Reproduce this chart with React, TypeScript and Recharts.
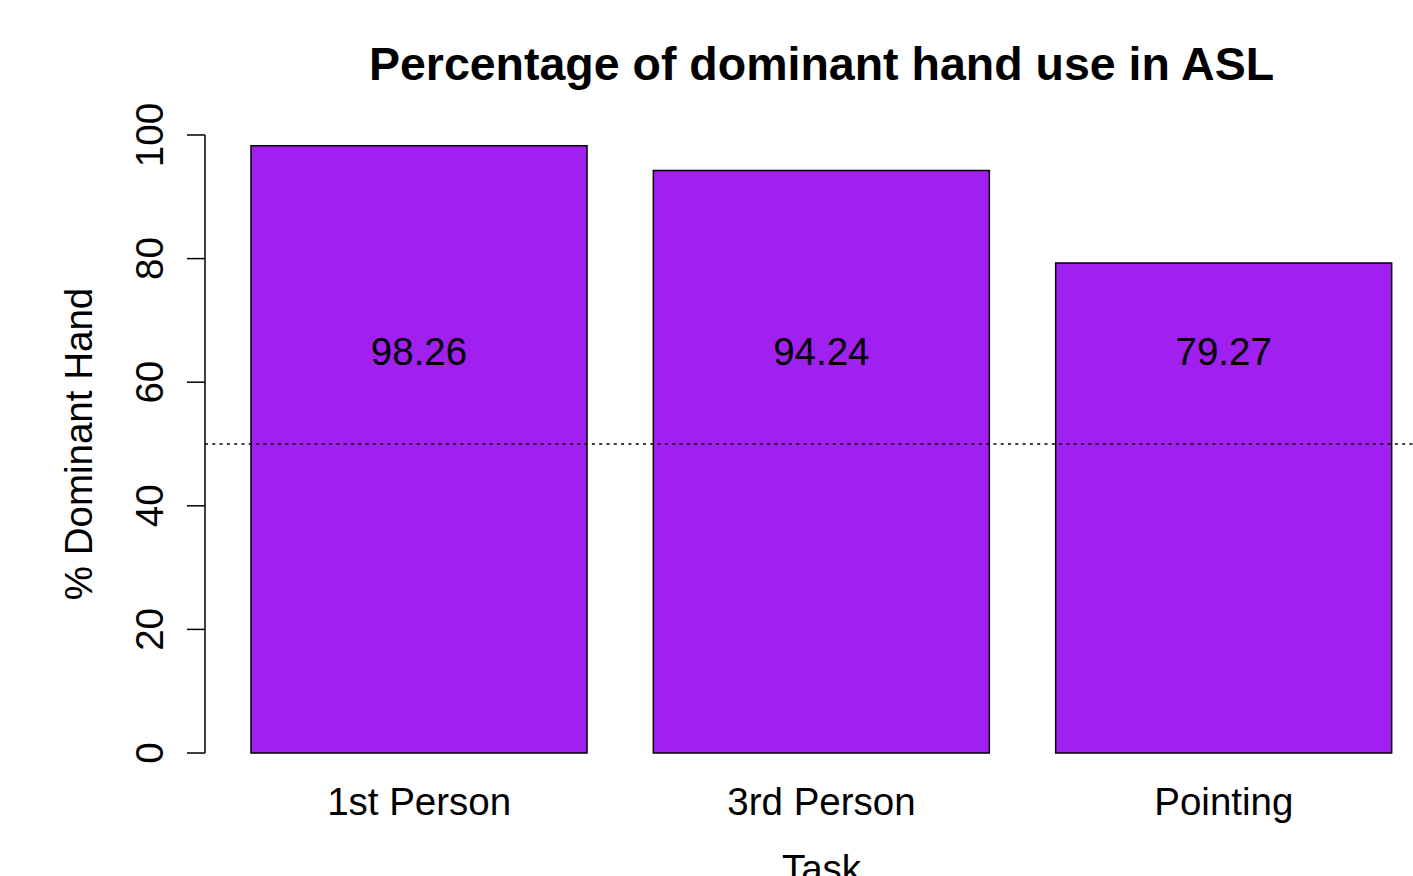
import { Bar, BarChart, LabelList, ReferenceLine, XAxis, YAxis } from "recharts";

const tasks = ["1st Person", "3rd Person", "Pointing"];
const dominantPct = [98.26, 94.24, 79.27];
const yTicks = [0, 20, 40, 60, 80, 100];
const chanceLevel = 50;
const labelLevel = 65;

const data = tasks.map((task, i) => ({ task, pct: dominantPct[i] }));

const FONT = '"Liberation Sans", Arial, Helvetica, sans-serif';
const FS = 38.5;

function YTick({ x, y, payload }: any) {
  return (
    <text
      x={x}
      y={y}
      transform={`rotate(-90, ${x}, ${y})`}
      textAnchor="middle"
      fontSize={FS}
      fontFamily={FONT}
      fill="#000"
    >
      {payload.value}
    </text>
  );
}

function XTick({ x, y, payload }: any) {
  return (
    <text x={x} y={y} textAnchor="middle" fontSize={FS} fontFamily={FONT} fill="#000">
      {payload.value}
    </text>
  );
}

function ValueLabel({ x, y, width, height, value }: any) {
  const base = y + height;
  const ly = base - (height * labelLevel) / value;
  return (
    <text
      x={x + width / 2}
      y={ly}
      textAnchor="middle"
      dominantBaseline="central"
      fontSize={FS}
      fontFamily={FONT}
      fill="#000"
    >
      {value.toFixed(2)}
    </text>
  );
}

export default function App() {
  return (
    <div style={{ position: "absolute", left: 0, top: 0, width: 1413, height: 876, overflow: "hidden", background: "#fff" }}>
      <BarChart
        width={1460}
        height={876}
        data={data}
        margin={{ top: 135, right: 22, bottom: 0, left: 0 }}
        barSize={336}
      >
        <text x={821.5} y={80} textAnchor="middle" fontSize={46.5} fontWeight="bold" fontFamily={FONT} fill="#000">
          Percentage of dominant hand use in ASL
        </text>
        <XAxis
          dataKey="task"
          height={123}
          axisLine={false}
          tickLine={false}
          tickSize={0}
          tickMargin={62}
          padding={{ left: 13, right: 13 }}
          tick={<XTick />}
          interval={0}
          label={{
            content: ({ viewBox }: any) => (
              <text
                x={viewBox.x + viewBox.width / 2}
                y={viewBox.y + 129}
                textAnchor="middle"
                fontSize={FS}
                fontFamily={FONT}
                fill="#000"
              >
                Task
              </text>
            ),
          }}
        />
        <YAxis
          width={205}
          domain={[0, 100]}
          ticks={yTicks}
          interval={0}
          tickSize={18}
          tickMargin={24}
          stroke="#000"
          strokeWidth={1.5}
          tick={<YTick />}
          label={{
            content: ({ viewBox }: any) => {
              const cx = 92;
              const cy = viewBox.y + viewBox.height / 2;
              return (
                <text
                  x={cx}
                  y={cy}
                  transform={`rotate(-90, ${cx}, ${cy})`}
                  textAnchor="middle"
                  fontSize={FS}
                  fontFamily={FONT}
                  fill="#000"
                >
                  % Dominant Hand
                </text>
              );
            },
          }}
        />
        <Bar dataKey="pct" fill="#A020F0" stroke="#000" strokeWidth={1.5} isAnimationActive={false}>
          <LabelList dataKey="pct" content={<ValueLabel />} />
        </Bar>
        <ReferenceLine y={chanceLevel} stroke="#000" strokeWidth={1.5} strokeDasharray="3 4.3" />
      </BarChart>
    </div>
  );
}
